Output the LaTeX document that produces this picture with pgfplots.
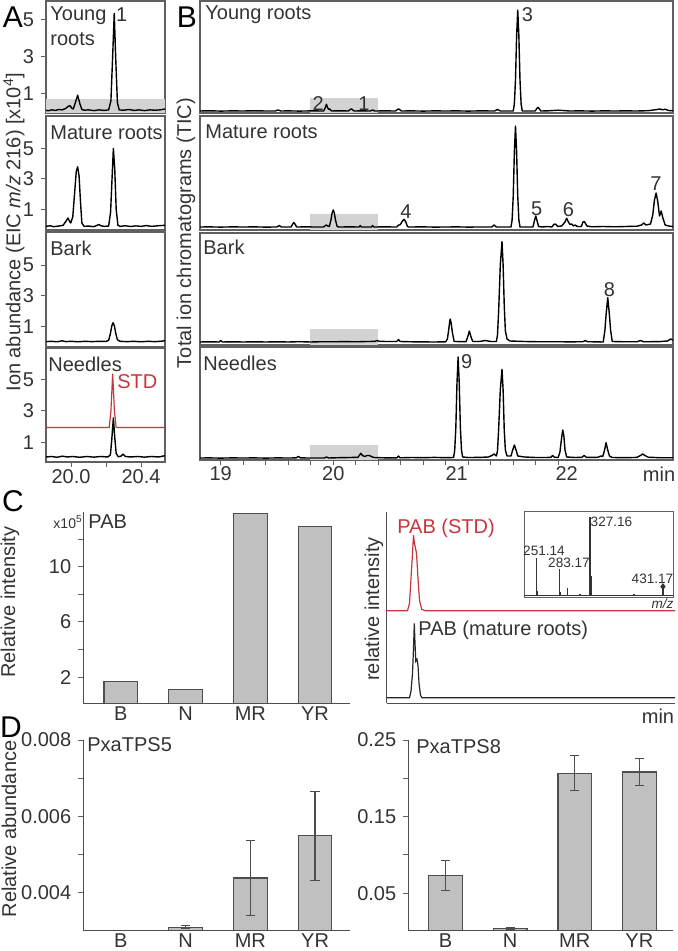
\documentclass[border=0pt]{standalone}
\usepackage{fontspec}
\setmainfont{Liberation Sans}
\usepackage{pgfplots}
\pgfplotsset{compat=1.18}

\definecolor{bargray}{HTML}{C0C0C0}
\definecolor{bardraw}{HTML}{4D4D4D}
\definecolor{boxgray}{HTML}{D3D3D3}
\definecolor{stdred}{HTML}{C8363D}
\definecolor{txt}{HTML}{333333}
\definecolor{frame}{HTML}{606060}

\pgfplotsset{
  base/.style={scale only axis, anchor=north west,
    /pgf/number format/assume math mode=true,
    tick label style={font=\fontsize{10}{10}\selectfont, text=txt},
    tick align=outside, major tick length=2.5pt, minor tick length=2.5pt,
    tick style={draw=frame, line width=0.5pt}},
  chrom/.style={base, axis line style={draw=frame, line width=0.8pt},
    xtick=\empty, ytick=\empty},
  bars/.style={base, axis lines*=left, axis line style={draw=bardraw, line width=0.6pt},
    xtick={0,1,2,3}, xticklabels={B,N,MR,YR}, major x tick style={draw=none},
    xticklabel style={yshift=4.5pt},
    ytick pos=left, scaled y ticks=false},
  bar/.style={ybar, bar width=0.52, bar shift=0pt, fill=bargray, draw=bardraw, line width=0.6pt},
  errs/.style={error bars/.cd, y dir=both, y explicit,
    error bar style={draw=bardraw, line width=0.6pt},
    error mark options={rotate=90, draw=bardraw, line width=0.6pt, mark size=2.3pt}},
  trace/.style={black, line width=0.7pt, line join=round},
}

\begin{document}
\begin{tikzpicture}

% ---------------- A: EIC m/z 216 ----------------
\begin{axis}[chrom, at={(23pt,-0.5pt)}, width=59.5pt, height=56pt,
  xmin=19.857, xmax=20.537, ymin=-0.07, ymax=6.03, ytick={1,3,5}, ytick pos=left]
\addplot[draw=none, fill=boxgray] coordinates {(19.857,-0.07) (19.857,0.68) (20.537,0.68) (20.537,-0.07)} -- cycle;
\addplot[trace] coordinates {(19.857,0.08) (19.87,0.05) (19.89,0.1) (19.91,0.07) (19.93,0.12) (19.95,0.1) (19.97,0.18) (19.985,0.3) (19.994,0.33) (20.005,0.18) (20.013,0.15) (20.025,0.5) (20.038,0.9) (20.05,0.45) (20.062,0.12) (20.075,0.08) (20.1,0.1) (20.13,0.06) (20.16,0.1) (20.19,0.07) (20.215,0.1) (20.228,0.6) (20.237,2.8) (20.247,5.36) (20.255,3.0) (20.265,0.5) (20.275,0.1) (20.3,0.08) (20.33,0.12) (20.36,0.07) (20.39,0.1) (20.42,0.06) (20.45,0.1) (20.48,0.08) (20.51,0.1) (20.537,0.15)};
\end{axis}

\begin{axis}[chrom, at={(23pt,-58pt)}, width=59.5pt, height=57pt,
  xmin=19.857, xmax=20.537, ymin=-0.36, ymax=7.14, ytick={1,3,5}, ytick pos=left]
\addplot[trace] coordinates {(19.857,-0.12) (19.88,-0.08) (19.9,-0.14) (19.93,-0.1) (19.955,-0.05) (19.97,0.2) (19.983,0.43) (19.992,0.2) (19.998,0.1) (20.01,0.5) (20.022,2.3) (20.03,3.5) (20.038,3.8) (20.046,3.2) (20.054,1.5) (20.062,0.1) (20.075,-0.12) (20.1,-0.1) (20.13,-0.14) (20.16,0.0) (20.17,-0.08) (20.19,-0.12) (20.215,-0.1) (20.226,0.8) (20.235,3.2) (20.242,5.0) (20.25,3.6) (20.258,1.0) (20.268,-0.05) (20.28,-0.12) (20.31,-0.08) (20.34,-0.13) (20.37,-0.09) (20.4,-0.12) (20.43,-0.07) (20.46,-0.12) (20.5,-0.08) (20.537,-0.05)};
\end{axis}

\begin{axis}[chrom, at={(23pt,-116pt)}, width=59.5pt, height=57.5pt,
  xmin=19.857, xmax=20.537, ymin=-0.32, ymax=7.15, ytick={1,3,5}, ytick pos=left]
\addplot[trace] coordinates {(19.857,0.03) (19.89,0.05) (19.92,0.02) (19.95,0.08) (19.97,0.03) (20.0,0.05) (20.04,0.02) (20.08,0.05) (20.12,0.03) (20.16,0.05) (20.2,0.04) (20.215,0.12) (20.225,0.55) (20.233,1.05) (20.24,1.26) (20.248,1.05) (20.256,0.55) (20.265,0.15) (20.28,0.05) (20.32,0.03) (20.36,0.05) (20.4,0.02) (20.44,0.05) (20.48,0.03) (20.52,0.06) (20.537,0.1)};
\end{axis}

\begin{axis}[chrom, at={(23pt,-174pt)}, width=59.5pt, height=57pt,
  xmin=19.857, xmax=20.537, ymin=-0.25, ymax=7.01, ytick={1,3,5}, ytick pos=left,
  xtick={20.0,20.2,20.4}, xticklabels={20.0,,20.4}, xtick pos=left,
  xticklabel style={yshift=2.5pt}]
\addplot[stdred, line width=0.6pt] coordinates {(19.857,1.95) (20.218,1.95) (20.228,3.0) (20.238,5.38) (20.248,3.0) (20.258,1.95) (20.537,1.95)};
\addplot[trace] coordinates {(19.857,0.07) (19.89,0.1) (19.92,0.05) (19.95,0.12) (19.98,0.07) (20.01,0.1) (20.05,0.05) (20.09,0.1) (20.13,0.06) (20.17,0.1) (20.21,0.07) (20.225,0.2) (20.233,1.2) (20.242,2.55) (20.25,1.3) (20.258,0.3) (20.27,0.08) (20.285,0.12) (20.297,0.25) (20.31,0.1) (20.34,0.07) (20.38,0.1) (20.42,0.06) (20.46,0.1) (20.5,0.07) (20.537,0.15)};
\end{axis}

% ---------------- B: TIC ----------------
\begin{axis}[chrom, at={(100pt,-0.5pt)}, width=236.5pt, height=56pt,
  xmin=18.816, xmax=23.02, ymin=0, ymax=112]
\addplot[draw=none, fill=boxgray] coordinates {(19.79,0) (19.79,15) (20.40,15) (20.40,0)} -- cycle;
\addplot[trace] coordinates {(18.816,2) (18.9,2.2) (19.0,1.9) (19.1,2.1) (19.2,2) (19.3,2.2) (19.4,2) (19.485,2) (19.51,3) (19.535,2) (19.6,2.1) (19.7,1.9) (19.8,2.1) (19.915,2) (19.93,5.5) (19.94,8.7) (19.95,5.5) (19.96,3.5) (19.97,4.0) (19.985,2) (20.05,2.2) (20.135,2) (20.15,3.5) (20.16,4) (20.17,3.5) (20.185,2) (20.25,2.1) (20.33,2) (20.35,3) (20.37,2) (20.45,2.1) (20.555,2) (20.57,3.5) (20.58,4) (20.59,3.5) (20.605,2) (20.7,2.1) (20.8,1.9) (20.9,2.1) (21.0,2) (21.1,2.1) (21.2,1.9) (21.3,2.1) (21.435,2) (21.46,3.5) (21.485,2) (21.6,2) (21.61,9) (21.62,33) (21.63,77) (21.64,103) (21.65,77) (21.66,33) (21.67,9) (21.68,2) (21.795,2) (21.81,4.5) (21.82,5.5) (21.83,4.5) (21.845,2) (21.9,2.1) (22.0,2.8) (22.1,2) (22.2,2.1) (22.3,1.9) (22.4,2.1) (22.5,2) (22.6,2.1) (22.7,2) (22.8,2.3) (22.88,3.5) (22.9,4) (22.93,3.2) (22.95,3.8) (22.98,2.5) (23.02,2.2)};
\end{axis}

\begin{axis}[chrom, at={(100pt,-58pt)}, width=236.5pt, height=57pt,
  xmin=18.816, xmax=23.02, ymin=0, ymax=114]
\addplot[draw=none, fill=boxgray] coordinates {(19.79,0) (19.79,16) (20.40,16) (20.40,0)} -- cycle;
\addplot[trace] coordinates {(18.816,3) (18.9,3.1) (19.0,2.9) (19.1,3.1) (19.2,3) (19.3,3.1) (19.4,2.9) (19.5,3) (19.52,4.5) (19.54,3) (19.625,3) (19.64,6) (19.65,7.5) (19.66,6) (19.675,3) (19.75,3.1) (19.85,3) (19.915,3) (19.93,4.5) (19.94,5) (19.95,4) (19.965,3.5) (19.98,10) (19.99,17) (20.0,20) (20.01,17) (20.02,10) (20.035,3.5) (20.05,3) (20.15,3.1) (20.23,3) (20.24,4.5) (20.25,3) (20.34,3) (20.35,4.5) (20.36,3) (20.45,3.1) (20.565,3) (20.58,5) (20.59,5) (20.6,6) (20.615,9) (20.63,10.7) (20.645,8) (20.66,3.5) (20.67,3) (20.8,3.1) (20.9,2.9) (21.0,3) (21.1,3.1) (21.2,2.9) (21.3,3) (21.41,3) (21.43,5) (21.45,3) (21.58,3) (21.59,10) (21.6,34) (21.61,78) (21.62,104) (21.63,78) (21.64,34) (21.65,10) (21.66,3) (21.775,3) (21.79,10) (21.8,14) (21.81,10) (21.825,3.5) (21.86,3) (21.9,3.5) (21.945,3) (21.96,5.5) (21.97,6) (21.98,5.5) (21.995,3.5) (22.03,4) (22.06,8) (22.075,11.7) (22.09,8) (22.105,5.5) (22.12,6) (22.135,4) (22.15,5) (22.17,3.5) (22.205,3.5) (22.22,8) (22.23,8.5) (22.24,7) (22.255,4) (22.3,3.2) (22.4,3.5) (22.5,3.2) (22.6,3.5) (22.7,3.8) (22.74,5) (22.76,7) (22.78,5) (22.82,6) (22.84,15) (22.855,30) (22.87,37) (22.885,28) (22.9,14) (22.915,19) (22.93,12) (22.95,5) (22.98,4) (23.02,3.5)};
\end{axis}

\begin{axis}[chrom, at={(100pt,-116.5pt)}, width=236.5pt, height=56pt,
  xmin=18.816, xmax=23.02, ymin=0, ymax=112]
\addplot[draw=none, fill=boxgray] coordinates {(19.79,0) (19.79,16) (20.40,16) (20.40,0)} -- cycle;
\addplot[trace] coordinates {(18.816,3) (18.9,3.2) (18.985,3) (19.0,4.5) (19.015,3) (19.1,3.2) (19.2,3) (19.3,3.2) (19.4,3) (19.5,3.2) (19.6,3) (19.7,3.3) (19.8,3) (19.9,3.3) (20.0,3.2) (20.1,3.4) (20.2,3.2) (20.3,3.5) (20.37,3.6) (20.39,4.5) (20.41,3.6) (20.5,3.5) (20.565,3.5) (20.58,5.5) (20.595,3.5) (20.7,3.2) (20.8,3.1) (20.9,3) (21.0,3.2) (21.015,6) (21.025,14) (21.035,23) (21.04,26) (21.048,22) (21.06,12) (21.075,3.5) (21.18,3.3) (21.195,8) (21.21,14) (21.225,8) (21.24,3.5) (21.3,3.5) (21.35,4.5) (21.4,3.5) (21.45,3.5) (21.46,10) (21.47,33) (21.485,80) (21.5,103.3) (21.51,80) (21.52,40) (21.53,14) (21.545,6) (21.57,4) (21.7,3.5) (21.8,3.3) (21.9,3.2) (22.0,3.3) (22.1,3.1) (22.22,3.3) (22.24,4.5) (22.26,3.3) (22.4,3) (22.415,15) (22.425,30) (22.44,47.3) (22.455,30) (22.465,15) (22.48,3.5) (22.6,3.2) (22.7,3.2) (22.73,4.5) (22.76,3.2) (22.9,3.4) (22.97,4) (23.0,6) (23.02,5)};
\end{axis}

\begin{axis}[chrom, at={(100pt,-173.5pt)}, width=236.5pt, height=56.5pt,
  xmin=18.816, xmax=23.02, ymin=0, ymax=113,
  xtick={19,20,21,22}, xticklabels={}, minor x tick num=4, xtick pos=left]
\addplot[draw=none, fill=boxgray] coordinates {(19.79,0) (19.79,15) (20.40,15) (20.40,0)} -- cycle;
\addplot[trace] coordinates {(18.816,2) (18.9,2.1) (19.0,1.9) (19.1,2.1) (19.2,2) (19.3,2.1) (19.4,1.9) (19.5,2.1) (19.6,2) (19.67,2.1) (19.69,3.5) (19.71,2.1) (19.8,2) (19.92,2) (19.94,3) (19.96,2) (20.05,2.3) (20.15,2.5) (20.22,2.7) (20.235,5) (20.245,6.7) (20.26,4.5) (20.28,3.5) (20.3,4.5) (20.32,4.5) (20.34,3.5) (20.36,2.5) (20.45,2.2) (20.565,2.2) (20.58,4) (20.595,2.2) (20.7,2.5) (20.8,2.3) (20.9,2.6) (21.0,2.3) (21.07,2.5) (21.08,10) (21.09,33) (21.1,77) (21.11,103) (21.12,77) (21.13,33) (21.14,10) (21.15,3) (21.2,2.5) (21.3,2.6) (21.38,3) (21.41,4.5) (21.43,6) (21.45,4) (21.46,9) (21.47,30) (21.485,70) (21.5,90.7) (21.51,70) (21.52,30) (21.53,10) (21.545,4) (21.58,4) (21.595,10) (21.61,15) (21.625,10) (21.64,4) (21.7,3) (21.8,2.5) (21.9,2.5) (21.935,2.8) (21.95,4.5) (21.965,2.8) (22.0,2.5) (22.015,8) (22.03,22) (22.04,30) (22.05,24) (22.06,10) (22.075,3) (22.15,2.5) (22.21,2.7) (22.23,4.5) (22.25,2.7) (22.35,2.7) (22.38,4) (22.395,3.5) (22.41,9) (22.425,17.3) (22.44,10) (22.455,4) (22.48,2.5) (22.6,2.3) (22.7,2.6) (22.73,4.5) (22.75,6) (22.77,4.5) (22.8,2.8) (22.9,2.3) (23.02,2.3)};
\end{axis}

% ---------------- C: PAB ----------------
\begin{axis}[bars, at={(41.65pt,-255.85pt)}, width=133.35pt, height=95.8pt,
  xmin=-0.58, xmax=3.54, ymin=0.1, ymax=14, ytick={2,6,10}, minor ytick={4,8,12}]
\addplot[bar] coordinates {(0,1.67) (1,1.09) (2,13.87) (3,12.9)};
\end{axis}

\begin{axis}[base, at={(193.35pt,-255.85pt)}, width=144.15pt, height=95.8pt,
  axis lines*=left, axis line style={draw=bardraw, line width=0.6pt},
  xtick=\empty, ytick=\empty, xmin=386.7, xmax=675, ymin=0, ymax=191.6]
\addplot[stdred, line width=0.6pt] coordinates {(386.7,92.6) (407.5,92.6) (409.5,100) (411,125) (412.5,150) (413.5,168) (414.5,160) (415.5,155) (416.5,150) (418,125) (419.5,103) (421.7,94) (425,92.6) (675,92.6)};
\addplot[black!85, line width=0.6pt] coordinates {(386.7,5.6) (409.5,5.6) (411,12) (412.5,30) (413.5,55) (414.3,80) (415,60) (415.8,42) (417,44) (418,38) (419,20) (420.5,8) (422,5.6) (675,5.6)};
\end{axis}

\begin{axis}[base, at={(262.15pt,-255.85pt)}, width=74.5pt, height=42.8pt,
  axis line style={draw=frame, line width=0.6pt}, axis background/.style={fill=white},
  xtick=\empty, ytick=\empty, xmin=233.4, xmax=446, ymin=-1.6, ymax=107]
\addplot[black!80, line width=0.4pt] coordinates {(233.4,0.3) (446,0.3)};
\addplot[ycomb, black!80, line width=0.6pt] coordinates {(251.14,47.9) (252.3,6) (283.17,34.6) (284.5,5) (294.8,9.6) (312.9,2) (327.16,100) (329.6,25) (372,1.5) (390,2) (431.17,11.6)};
\addplot[only marks, mark=diamond*, mark size=1.4pt, black!80] coordinates {(431.17,12)};
\end{axis}

% ---------------- D: transcripts ----------------
\begin{axis}[bars, at={(41.65pt,-370pt)}, width=133.35pt, height=95.35pt,
  xmin=-0.58, xmax=3.54, ymin=0.003, ymax=0.008,
  ytick={0.004,0.006,0.008}, minor ytick={0.005,0.007},
  yticklabel style={/pgf/number format/.cd, fixed, precision=3, fixed zerofill}]
\addplot[bar, errs] coordinates {(1,0.00309) +- (0,0.00004) (2,0.00438) +- (0,0.00098) (3,0.00549) +- (0,0.00117)};
\end{axis}

\begin{axis}[bars, at={(204.15pt,-370pt)}, width=132.5pt, height=95.35pt,
  xmin=-0.576, xmax=3.526, ymin=0.001, ymax=0.25,
  ytick={0.05,0.15,0.25}, minor ytick={0.1,0.2},
  yticklabel style={/pgf/number format/.cd, fixed, precision=2, fixed zerofill}]
\addplot[bar, errs] coordinates {(0,0.0726) +- (0,0.0196) (1,0.0044) +- (0,0.0012) (2,0.2066) +- (0,0.0228) (3,0.2083) +- (0,0.018)};
\end{axis}

% ---------------- text ----------------
\begin{scope}[x=0.5pt,y=-0.5pt, every node/.style={font=\fontsize{10}{12}\selectfont, text=txt, inner sep=0pt}]
\node[font=\fontsize{15}{15}\selectfont, text=black] at (13,17) {A};
\node[font=\fontsize{15}{15}\selectfont, text=black] at (187,17) {B};
\node[font=\fontsize{15}{15}\selectfont, text=black] at (13,501) {C};
\node[font=\fontsize{15}{15}\selectfont, text=black] at (11,727) {D};

\node[rotate=90] at (14,232) {Ion abundance (EIC \textit{m/z} 216) [x10\textsuperscript{4}]};
\node[rotate=90] at (186,233) {Total ion chromatograms (TIC)};
\node[rotate=90] at (10,602) {Relative intensity};
\node[rotate=90] at (374,609) {relative intensity};
\node[rotate=90] at (9,829) {Relative abundance};

\node[anchor=west] at (50,16) {Young};
\node[anchor=west] at (50,39) {roots};
\node at (121.7,15) {1};
\node[anchor=west] at (50,133) {Mature roots};
\node[anchor=west] at (50,248) {Bark};
\node[anchor=west] at (48,364) {Needles};
\node[anchor=west, text=stdred] at (117,382) {STD};

\node[anchor=west] at (205,15) {Young roots};
\node[anchor=west] at (205,132) {Mature roots};
\node[anchor=west] at (203,247) {Bark};
\node[anchor=west] at (203,363) {Needles};
\node at (527.5,15) {3};
\node at (318.3,104) {2};
\node at (364,104) {1};
\node at (406,211.7) {4};
\node at (536.7,208.3) {5};
\node at (568.3,209.3) {6};
\node at (656,183.3) {7};
\node at (609.3,290) {8};
\node at (466.7,361.7) {9};
\node at (220.7,474) {19};
\node at (333.3,474) {20};
\node at (456.7,474) {21};
\node at (566.7,474) {22};
\node at (659,474) {min};

\node[anchor=east, font=\fontsize{7}{7}\selectfont] at (83,521.7) {x10\textsuperscript{5}};
\node[anchor=west] at (88,521.7) {PAB};
\node[text=stdred] at (446,528.3) {PAB (STD)};
\node[anchor=west] at (418,630) {PAB (mature roots)};
\node at (658,716.7) {min};
\node[font=\fontsize{6.8}{7}\selectfont] at (544,550.5) {251.14};
\node[font=\fontsize{6.8}{7}\selectfont] at (569,562.7) {283.17};
\node[font=\fontsize{6.8}{7}\selectfont] at (611.5,521.7) {327.16};
\node[font=\fontsize{6.8}{7}\selectfont] at (652.5,579.3) {431.17};
\node[font=\fontsize{6.8}{7}\selectfont\itshape] at (662.5,604) {m/z};

\node[anchor=west] at (87,745) {PxaTPS5};
\node[anchor=west] at (416,747) {PxaTPS8};
\end{scope}

\pgfresetboundingbox
\path[use as bounding box] (0pt,0pt) rectangle (338.5pt,-475.5pt);
\end{tikzpicture}
\end{document}
